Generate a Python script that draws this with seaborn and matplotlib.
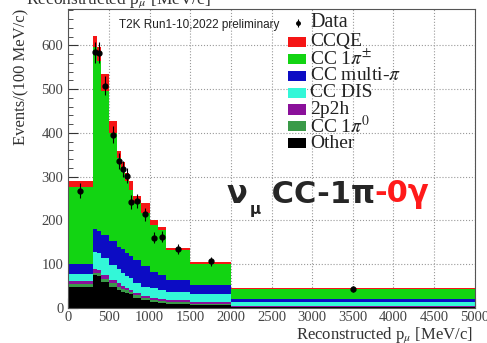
import numpy as np
import pandas as pd
import seaborn as sns
import matplotlib.pyplot as plt
from matplotlib.patches import Rectangle
from matplotlib.ticker import MultipleLocator

# ===== binning (MeV/c) =====
bin_edges = [0, 300, 350, 400, 500, 600, 650, 700, 750, 800, 900,
             1000, 1100, 1200, 1500, 2000, 5000]

# ===== MC components, events / (100 MeV/c) per bin =====
ccqe      = [14, 26, 32, 40, 28, 15, 17, 18, 20, 15, 23, 12, 8, 5, 5, 2]
cc1pipm   = [176, 415, 389, 328, 248, 203, 182, 165, 151, 130, 122, 106, 103, 69, 48, 23]
ccmultipi = [22, 51, 50, 53, 54, 52, 53, 52, 51, 54, 46, 38, 35, 27, 22, 7]
ccdis     = [16, 41, 39, 39, 34, 32, 30, 28, 27, 22, 22, 21, 19, 19, 17, 9]
twop2h    = [8, 7, 7, 8, 8, 8, 7, 5, 5, 5, 5, 5, 5, 5, 4, 2]
cc1pi0    = [7, 6, 7, 7, 7, 7, 7, 6, 5, 5, 4, 5, 4, 4, 3, 1]
other     = [47, 75, 72, 60, 49, 41, 37, 34, 31, 24, 18, 14, 12, 9, 7, 2]

# ===== data =====
data_y = [268, 584, 583, 508, 396, 336, 318, 302, 242, 245, 214, 161, 163, 134, 107, 43]

labels = ["CCQE", r"CC 1$\pi^{\pm}$", r"CC multi-$\pi$", "CC DIS",
          "2p2h", r"CC 1$\pi^{0}$", "Other"]
colors = ["#f51515", "#12d412", "#0c0cc4", "#33f7d8", "#8a109a", "#3a9a48", "#000000"]
series = [ccqe, cc1pipm, ccmultipi, ccdis, twop2h, cc1pi0, other]

edges = np.array(bin_edges, dtype=float)
centers = 0.5 * (edges[:-1] + edges[1:])

rows = []
for lab, vals in zip(labels, series):
    for c, v in zip(centers, vals):
        rows.append({"p": c, "w": v, "comp": lab})
df = pd.DataFrame(rows)

sns.set_theme(style="ticks")
plt.rcParams["font.family"] = ["Liberation Serif", "DejaVu Serif"]
plt.rcParams["mathtext.fontset"] = "stix"

fig = plt.figure(figsize=(4.87, 3.43), dpi=100)
ax = fig.add_axes([0.14, 0.102, 0.835, 0.872])

sns.histplot(data=df, x="p", weights="w", hue="comp", hue_order=labels,
             palette=colors, bins=bin_edges, multiple="stack", element="step",
             fill=True, alpha=1, linewidth=0, legend=False, ax=ax)

ax.errorbar(centers, data_y, yerr=np.sqrt(data_y), fmt="o", color="black",
            ms=3.5, elinewidth=0.8, capsize=0, zorder=5)

ax.set_xlim(0, 5000)
ax.set_ylim(0, 683)
ax.xaxis.set_major_locator(MultipleLocator(500))
ax.xaxis.set_minor_locator(MultipleLocator(100))
ax.yaxis.set_major_locator(MultipleLocator(100))
ax.yaxis.set_minor_locator(MultipleLocator(20))
ax.tick_params(which="both", direction="in", colors="#333333", labelcolor="#444444")
ax.tick_params(which="major", length=7, width=0.8)
ax.tick_params(which="minor", length=3.5, width=0.6)
ax.tick_params(axis="x", labelsize=10.5, pad=2.5)
ax.tick_params(axis="y", labelsize=10.5)
ax.grid(True, which="major", ls=":", color="#999999", lw=0.8)
ax.set_axisbelow(True)
for s in ax.spines.values():
    s.set_visible(True)
    s.set_color("#555555")
    s.set_linewidth(0.8)

ax.set_xlabel(r"Reconstructed p$_{\mu}$ [MeV/c]", fontsize=12, loc="right",
              color="#333333")
ax.xaxis.set_label_coords(0.995, -0.057)
ax.set_ylabel("Events/(100 MeV/c)", fontsize=12, loc="top", color="#333333",
              labelpad=9)

fig.text(0.243, 1.0, r"Reconstructed p$_{\mu}$ [MeV/c]", ha="center", va="center",
         fontsize=12.5, color="#333333")

ax.text(0.125, 0.945, "T2K Run1-10,2022 preliminary", transform=ax.transAxes,
        fontsize=8.5, family="Liberation Sans", color="#222222", va="center")

# ===== legend (ROOT style, drawn by hand) =====
sq_x, sq_w, sq_h, txt_x = 0.5405, 0.0442, 0.034, 0.5946
ax.errorbar([0.565], [0.953], yerr=[0.012], fmt="o", ms=2.5, color="black",
            elinewidth=0.8, transform=ax.transAxes, clip_on=False, zorder=6)
ax.text(txt_x, 0.955, "Data", transform=ax.transAxes, fontsize=14.5, va="center",
        color="#222222")
for i, (lab, col) in enumerate(zip(labels, colors)):
    yc = 0.8897 - i * 0.0565
    ax.add_patch(Rectangle((sq_x, yc - sq_h / 2), sq_w, sq_h, facecolor=col,
                           edgecolor="none", transform=ax.transAxes, zorder=6))
    ax.text(txt_x, yc, lab, transform=ax.transAxes, fontsize=14, va="center",
            color="#222222")

# nu_mu CC-1pi-0gamma label
big = dict(fontsize=22, fontweight="bold", family="DejaVu Sans")
t1 = ax.text(0.390, 0.351, "ν", transform=ax.transAxes, va="baseline", ha="left", **big)
t2 = ax.annotate("μ", xy=(1.1, 0.25), xycoords=t1, va="top", ha="left",
                 fontsize=11, fontweight="bold", family="DejaVu Sans")
t3 = ax.annotate(" CC-1π", xy=(1, 0), xycoords=(t2, t1), va="bottom", ha="left", **big)
ax.annotate("-0γ", xy=(1, 0), xycoords=t3, va="bottom", ha="left", color="#ff1a1a", **big)

fig.savefig("out.png", dpi=100)
